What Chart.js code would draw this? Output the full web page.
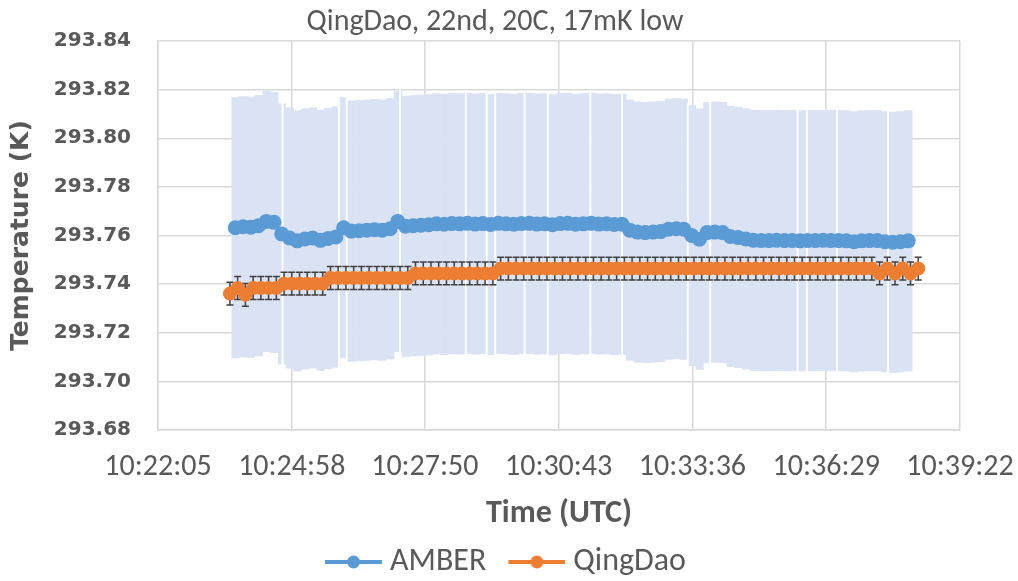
<!DOCTYPE html>
<html>
<head>
<meta charset="utf-8">
<script src="https://cdn.jsdelivr.net/npm/chart.js@4.4.1/dist/chart.umd.min.js"></script>
<style>
  html, body { margin: 0; padding: 0; background: #fff; }
</style>
</head>
<body>
<canvas id="chart" width="1018" height="581"></canvas>
<script>
// x axis tick labels (time of day, UTC)
const xTickLabels = ["10:22:05", "10:24:58", "10:27:50", "10:30:43", "10:33:36", "10:36:29", "10:39:22"];
const yMin = 293.68, yMax = 293.84, yStep = 0.02;

// both loggers sample every 10 s
const sampleStep = 10;
const amberStart = "10:23:45";
const qingdaoStart = "10:23:38";

const amberTemps = [
  293.7632, 293.7636, 293.7634, 293.7640, 293.7658, 293.7654, 293.7606, 293.7590, 293.7578, 293.7586,
  293.7590, 293.7580, 293.7588, 293.7594, 293.7632, 293.7618, 293.7620, 293.7622, 293.7624, 293.7622,
  293.7628, 293.7658, 293.7638, 293.7640, 293.7642, 293.7644, 293.7648, 293.7646, 293.7649, 293.7648,
  293.7650, 293.7647, 293.7649, 293.7645, 293.7650, 293.7648, 293.7646, 293.7649, 293.7650, 293.7647,
  293.7648, 293.7644, 293.7649, 293.7650, 293.7646, 293.7648, 293.7650, 293.7647, 293.7648, 293.7645,
  293.7646, 293.7622, 293.7614, 293.7612, 293.7614, 293.7616, 293.7626, 293.7628, 293.7626, 293.7600,
  293.7585, 293.7612, 293.7614, 293.7612, 293.7596, 293.7592, 293.7586, 293.7580, 293.7579, 293.7579,
  293.7580, 293.7579, 293.7579, 293.7578, 293.7579, 293.7579, 293.7580, 293.7579, 293.7579, 293.7578,
  293.7574, 293.7578, 293.7579, 293.7579, 293.7574, 293.7572, 293.7574, 293.7578
];
const amberErr = 0.0537;
// moments with no AMBER uncertainty reading (thin gaps in the band)
const amberGapTimes = [
  "10:24:46", "10:25:59", "10:26:09", "10:27:18", "10:28:43", "10:29:10", "10:29:21", "10:29:59",
  "10:30:29", "10:31:24", "10:32:05", "10:33:30", "10:33:59", "10:35:52", "10:36:04", "10:36:43", "10:37:49"
];

const qingdaoTemps = [
  293.7361, 293.7384, 293.7356, 293.7384, 293.7384, 293.7384, 293.7384, 293.7402, 293.7402, 293.7402,
  293.7402, 293.7402, 293.7402, 293.7425, 293.7425, 293.7425, 293.7425, 293.7425, 293.7425, 293.7425,
  293.7425, 293.7425, 293.7425, 293.7425, 293.7444, 293.7444, 293.7444, 293.7444, 293.7444, 293.7444,
  293.7444, 293.7444, 293.7444, 293.7444, 293.7444, 293.7464, 293.7464, 293.7464, 293.7464, 293.7464,
  293.7464, 293.7464, 293.7464, 293.7464, 293.7464, 293.7464, 293.7464, 293.7464, 293.7464, 293.7464,
  293.7464, 293.7464, 293.7464, 293.7464, 293.7464, 293.7464, 293.7464, 293.7464, 293.7464, 293.7464,
  293.7464, 293.7464, 293.7464, 293.7464, 293.7464, 293.7464, 293.7464, 293.7464, 293.7464, 293.7464,
  293.7464, 293.7464, 293.7464, 293.7464, 293.7464, 293.7464, 293.7464, 293.7464, 293.7464, 293.7464,
  293.7464, 293.7464, 293.7464, 293.7464, 293.7444, 293.7464, 293.7444, 293.7464, 293.7444, 293.7464
];
const qingdaoErr = 0.0047;

const BLUE = "#5b9bd5", ORANGE = "#ed7d31", BAND = "#dae3f3", TEXT = "#595959", GRID = "#d9d9d9";
const NARROW = 'Carlito, "Liberation Sans Narrow", "Arial Narrow", sans-serif';
const WIDE = '"DejaVu Sans", Verdana, sans-serif';

function toSec(s) {
  const p = s.split(":").map(Number);
  return p[0] * 3600 + p[1] * 60 + p[2];
}
function fmtTime(sec) {
  sec = Math.round(sec);
  const h = Math.floor(sec / 3600), m = Math.floor(sec / 60) % 60, s = sec % 60;
  return h + ":" + String(m).padStart(2, "0") + ":" + String(s).padStart(2, "0");
}

const amberPts = amberTemps.map((v, i) => ({ x: toSec(amberStart) + i * sampleStep, y: v }));
const qingdaoPts = qingdaoTemps.map((v, i) => ({ x: toSec(qingdaoStart) + i * sampleStep, y: v }));

// legend icon: line with a dot in the middle (transparent left margin = gap between items)
function legendIcon(color) {
  const c = document.createElement("canvas");
  c.width = 86; c.height = 16;
  const g = c.getContext("2d");
  g.strokeStyle = color; g.lineWidth = 4;
  g.beginPath(); g.moveTo(29, 8); g.lineTo(86, 8); g.stroke();
  g.fillStyle = color;
  g.beginPath(); g.arc(57.5, 8, 6.5, 0, Math.PI * 2); g.fill();
  return c;
}
const icons = [legendIcon(BLUE), legendIcon(ORANGE)];

const errorBars = {
  id: "errorBars",
  beforeDatasetsDraw(chart) {
    const { ctx, chartArea, scales: { x, y } } = chart;
    ctx.save();
    ctx.beginPath();
    ctx.rect(chartArea.left, chartArea.top, chartArea.width, chartArea.height);
    ctx.clip();

    // AMBER: wide uncertainty, drawn as touching bars
    ctx.fillStyle = BAND;
    amberPts.forEach((p, i) => {
      const px = x.getPixelForValue(p.x);
      const prev = i > 0 ? x.getPixelForValue(amberPts[i - 1].x) : px - (x.getPixelForValue(amberPts[1].x) - px);
      const next = i < amberPts.length - 1 ? x.getPixelForValue(amberPts[i + 1].x) : px + (px - prev);
      const l = (prev + px) / 2, r = (px + next) / 2;
      const top = y.getPixelForValue(p.y + amberErr);
      const bot = y.getPixelForValue(p.y - amberErr);
      ctx.fillRect(l, top, r - l + 0.5, bot - top);
    });
    // missing readings leave thin white slits
    ctx.fillStyle = "#fff";
    amberGapTimes.forEach(t => {
      const sec = toSec(t);
      let k = Math.round((sec - amberPts[0].x) / sampleStep);
      k = Math.max(0, Math.min(amberPts.length - 1, k));
      const px = x.getPixelForValue(sec);
      const top = y.getPixelForValue(amberPts[k].y + amberErr);
      const bot = y.getPixelForValue(amberPts[k].y - amberErr);
      ctx.fillRect(px - 1, top - 2, 2, bot - top + 4);
    });

    // QingDao: small dark error bars with caps
    ctx.strokeStyle = "#404040";
    ctx.lineWidth = 1.5;
    qingdaoPts.forEach(p => {
      const px = x.getPixelForValue(p.x);
      const top = y.getPixelForValue(p.y + qingdaoErr);
      const bot = y.getPixelForValue(p.y - qingdaoErr);
      ctx.beginPath();
      ctx.moveTo(px, top); ctx.lineTo(px, bot);
      ctx.moveTo(px - 3.5, top); ctx.lineTo(px + 3.5, top);
      ctx.moveTo(px - 3.5, bot); ctx.lineTo(px + 3.5, bot);
      ctx.stroke();
    });
    ctx.restore();
  }
};

new Chart(document.getElementById("chart").getContext("2d"), {
  type: "line",
  data: {
    datasets: [
      {
        label: "AMBER",
        data: amberPts,
        borderColor: BLUE,
        backgroundColor: BLUE,
        borderWidth: 5,
        pointRadius: 7.5,
        pointBorderWidth: 0,
        pointBackgroundColor: BLUE,
        tension: 0
      },
      {
        label: "QingDao",
        data: qingdaoPts,
        borderColor: ORANGE,
        backgroundColor: ORANGE,
        borderWidth: 4,
        pointRadius: 7,
        pointBorderWidth: 0,
        pointBackgroundColor: ORANGE,
        tension: 0
      }
    ]
  },
  options: {
    responsive: false,
    animation: false,
    layout: { padding: { left: 30, right: 58, top: 4, bottom: -7 } },
    plugins: {
      title: {
        display: true,
        text: "QingDao, 22nd, 20C, 17mK low",
        color: TEXT,
        font: { family: NARROW, size: 30, weight: "normal" },
        padding: { top: 0, bottom: 1 }
      },
      legend: {
        position: "bottom",
        labels: {
          color: TEXT,
          font: { family: NARROW, size: 32 },
          usePointStyle: true,
          pointStyleWidth: 70,
          padding: 1,
          generateLabels(chart) {
            const items = Chart.defaults.plugins.legend.labels.generateLabels(chart);
            items.forEach((it, i) => { it.pointStyle = icons[i]; });
            return items;
          }
        }
      },
      tooltip: { enabled: false }
    },
    scales: {
      x: {
        type: "linear",
        min: toSec(xTickLabels[0]),
        max: toSec(xTickLabels[xTickLabels.length - 1]),
        afterBuildTicks(scale) {
          scale.ticks = xTickLabels.map(l => ({ value: toSec(l) }));
        },
        afterFit(scale) {
          scale.height = 115;
          scale.paddingLeft = 0;
          scale.paddingRight = 0;
        },
        grid: { color: GRID, lineWidth: 1.5, drawTicks: false },
        border: { color: GRID, width: 1.5 },
        ticks: {
          color: TEXT,
          font: { family: NARROW, size: 30 },
          padding: 19,
          maxRotation: 0,
          autoSkip: false,
          callback: v => fmtTime(v)
        },
        title: {
          display: true,
          text: "Time (UTC)",
          color: TEXT,
          font: { family: NARROW, size: 32, weight: "bold" },
          padding: { top: 0, bottom: 12 }
        }
      },
      y: {
        min: yMin,
        max: yMax,
        afterFit(scale) { scale.width = 128; },
        grid: { color: GRID, lineWidth: 1.5, drawTicks: false },
        border: { color: GRID, width: 1.5 },
        ticks: {
          stepSize: yStep,
          color: TEXT,
          font: { family: WIDE, size: 20, weight: "bold" },
          padding: 27,
          callback: v => v.toFixed(2)
        },
        title: {
          display: true,
          text: "Temperature (K)",
          color: TEXT,
          font: { family: WIDE, size: 25, weight: "bold" },
          padding: { top: -24, bottom: 0 }
        }
      }
    }
  },
  plugins: [errorBars]
});
</script>
</body>
</html>
